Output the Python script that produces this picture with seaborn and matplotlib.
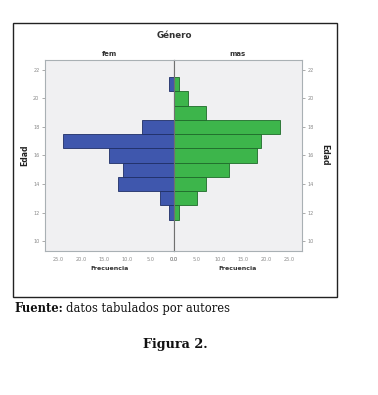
import matplotlib
matplotlib.use("Agg")
import matplotlib.pyplot as plt
import seaborn as sns
import pandas as pd
from matplotlib.patches import Rectangle

ages = [12, 13, 14, 15, 16, 17, 18, 19, 20, 21]
fem = [1, 3, 12, 11, 14, 24, 7, 0, 0, 1]
mas = [1, 5, 7, 12, 18, 19, 23, 7, 3, 1]
xticks = [0, 5, 10, 15, 20, 25]
yticks = [10, 12, 14, 16, 18, 20, 22]

blue = "#3f57ad"
green = "#3db54b"
bg = "#f0f0f2"

sns.set_theme(style="white")
plt.rcParams['font.family'] = ['DejaVu Sans']

W, H = 378, 395
fig = plt.figure(figsize=(W/100, H/100), dpi=100)

# outer frame
fig.patches.append(Rectangle((13/W, 1-297/H), 324/W, 274/H, transform=fig.transFigure,
                             fill=False, edgecolor="#222222", linewidth=1.0))

axL = fig.add_axes([45/W, 1-251/H, 129/W, 191/H])
axR = fig.add_axes([174/W, 1-251/H, 128/W, 191/H])

df_f = pd.DataFrame({"age": ages, "count": fem})
df_m = pd.DataFrame({"age": ages, "count": mas})
df_f = df_f[df_f["count"] > 0]
df_m = df_m[df_m["count"] > 0]

sns.barplot(data=df_f, x="count", y="age", orient="h", native_scale=True, width=1,
            color=blue, saturation=1, edgecolor="#1f2f66", linewidth=0.6, ax=axL)
sns.barplot(data=df_m, x="count", y="age", orient="h", native_scale=True, width=1,
            color=green, saturation=1, edgecolor="#1e6a2a", linewidth=0.6, ax=axR)

tick_col = "#8a8a8a"
for ax in (axL, axR):
    ax.set_facecolor(bg)
    ax.set_xlim(0, 27.8)
    ax.set_ylim(9.3, 22.7)
    ax.set_xticks(xticks)
    ax.set_xticklabels([f"{v:.1f}" for v in xticks])
    ax.set_yticks(yticks)
    ax.set_ylabel("")
    ax.set_xlabel("Frecuencia", fontsize=4.5, fontweight="bold", color="#333333", labelpad=3)
    ax.tick_params(axis="both", labelsize=3.6, colors=tick_col, length=2.5, width=0.5,
                   direction="out", pad=1.5)
    for s in ax.spines.values():
        s.set_color("#a9b0b4")
        s.set_linewidth(0.8)
    ax.grid(False)

axL.invert_xaxis()
axL.yaxis.set_ticks_position("left")
axR.yaxis.set_ticks_position("right")
axR.yaxis.set_label_position("right")
axL.spines["right"].set_color("#707070")
axR.spines["left"].set_color("#707070")

axL.set_title("fem", fontsize=5, fontweight="bold", color="#333333", pad=3)
axR.set_title("mas", fontsize=5, fontweight="bold", color="#333333", pad=3)

fig.text(174/W, 1-35/H, "Género", ha="center", va="center", fontsize=6.3,
         fontweight="bold", color="#333333")
fig.text(25/W, 1-155/H, "Edad", ha="center", va="center", rotation=90,
         fontsize=5.5, fontweight="bold", color="#222222")
fig.text(325/W, 1-155/H, "Edad", ha="center", va="center", rotation=270,
         fontsize=5.5, fontweight="bold", color="#222222")

serif = ["DejaVu Serif"]
fs = 8.3
t1 = fig.text(14/W, 1-312/H, "Fuente:", ha="left", va="baseline", fontsize=fs,
              fontweight="bold", family=serif, color="#111111")
fig.canvas.draw()
r = fig.canvas.get_renderer()
bb = t1.get_window_extent(r)
t2 = fig.text((bb.x1 + 3)/W, 1-312/H, "datos tabulados por autores", ha="left", va="baseline",
              fontsize=fs, family=serif, color="#111111")
fig.text(175/W, 1-348/H, "Figura 2.", ha="center", va="baseline", fontsize=9.2,
         fontweight="bold", family=serif, color="#111111")

fig.savefig("out.png", dpi=100)
